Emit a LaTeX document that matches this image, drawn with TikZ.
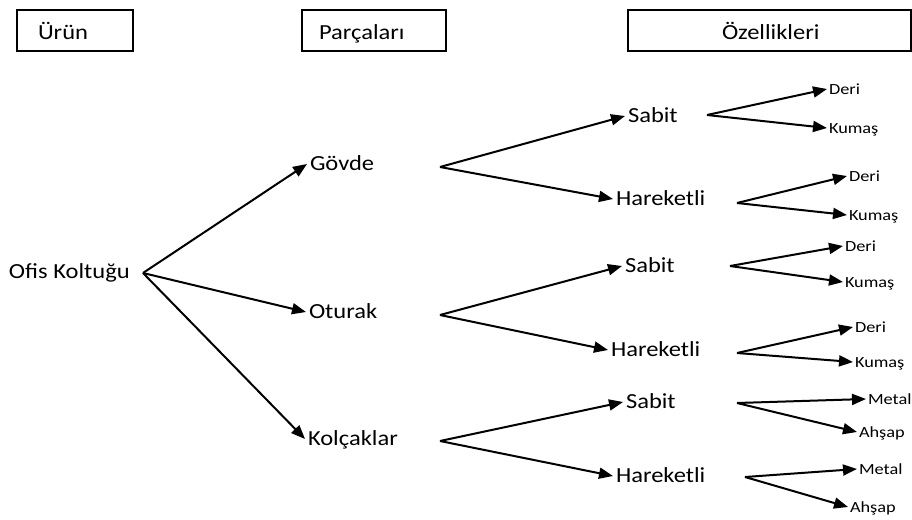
\documentclass[tikz,border=0pt]{standalone}
\usepackage{fontspec}
\setmainfont{Carlito}
\newfontfamily\bodyfont[FakeStretch=1.14]{Carlito}
\newfontfamily\leaffont[FakeStretch=1.18]{Carlito}
\usetikzlibrary{arrows.meta}
\begin{document}
\begin{tikzpicture}[x=1pt,y=-1pt,
  hdrbox/.style={draw,line width=1.6pt,inner sep=0pt},
  txt/.style={anchor=west,inner sep=0pt,outer xsep=3pt,text depth=0pt},
  lvl/.style={txt,text height=13.8pt,font=\bodyfont\fontsize{21.5}{24}\selectfont},
  leaf/.style={txt,outer xsep=2pt,text height=10pt,font=\leaffont\fontsize{15.5}{18}\selectfont},
  arr/.style={line width=2pt,-{Triangle[length=14pt,width=11pt]}}]
\useasboundingbox (0,0) rectangle (912,519);
% column headers
\node[hdrbox,minimum width=116pt,minimum height=41pt] (b1) at (75,30.5) {};
\node[hdrbox,minimum width=144pt,minimum height=41pt] (b2) at (374,30.5) {};
\node[hdrbox,minimum width=283pt,minimum height=41pt] (b3) at (769.5,30.5) {};
\node[lvl,outer xsep=0pt] (h1) at (38,33) {Ürün};
\node[lvl,outer xsep=0pt] (h2) at (319,33) {Parçaları};
\node[lvl,outer xsep=0pt] (h3) at (722,33) {Özellikleri};
% root
\node[lvl,outer xsep=0pt] (root) at (9,272) {Ofis Koltuğu};
\coordinate (r0) at (143,273);
% parts
\node[lvl] (govde) at (307,164) {Gövde};
\node[lvl] (oturak) at (306,312) {Oturak};
\node[lvl] (kolcak) at (305,439) {Kolçaklar};
\draw[arr] (r0) -- (govde.west);
\draw[arr] (r0) -- (oturak.west);
\draw[arr] (r0) -- (kolcak.west);
% Gövde branch
\coordinate (g0) at (440,167);
\node[lvl] (gs) at (625,116) {Sabit};
\node[lvl] (gh) at (613,199) {Hareketli};
\draw[arr] (g0) -- (gs.west);
\draw[arr] (g0) -- (gh.west);
\coordinate (gs0) at (707,115);
\node[leaf] (gsd) at (827,89) {Deri};
\node[leaf] (gsk) at (827,128) {Kumaş};
\draw[arr] (gs0) -- (gsd.west);
\draw[arr] (gs0) -- (gsk.west);
\coordinate (gh0) at (737,203);
\node[leaf] (ghd) at (847,176) {Deri};
\node[leaf] (ghk) at (847,215) {Kumaş};
\draw[arr] (gh0) -- (ghd.west);
\draw[arr] (gh0) -- (ghk.west);
% Oturak branch
\coordinate (o0) at (440,315);
\node[lvl] (os) at (622,266) {Sabit};
\node[lvl] (oh) at (608,350) {Hareketli};
\draw[arr] (o0) -- (os.west);
\draw[arr] (o0) -- (oh.west);
\coordinate (os0) at (730,266);
\node[leaf] (osd) at (843,246) {Deri};
\node[leaf] (osk) at (843,282) {Kumaş};
\draw[arr] (os0) -- (osd.west);
\draw[arr] (os0) -- (osk.west);
\coordinate (oh0) at (737,353);
\node[leaf] (ohd) at (853,327) {Deri};
\node[leaf] (ohk) at (853,362) {Kumaş};
\draw[arr] (oh0) -- (ohd.west);
\draw[arr] (oh0) -- (ohk.west);
% Kolçaklar branch
\coordinate (k0) at (440,441);
\node[lvl] (ks) at (623,402) {Sabit};
\node[lvl] (kh) at (613,476) {Hareketli};
\draw[arr] (k0) -- (ks.west);
\draw[arr] (k0) -- (kh.west);
\coordinate (ks0) at (737,403);
\node[leaf] (ksm) at (866,399) {Metal};
\node[leaf] (ksa) at (857,432) {Ahşap};
\draw[arr] (ks0) -- (ksm.west);
\draw[arr] (ks0) -- (ksa.west);
\coordinate (kh0) at (745,477);
\node[leaf] (khm) at (857,469) {Metal};
\node[leaf] (kha) at (848,507) {Ahşap};
\draw[arr] (kh0) -- (khm.west);
\draw[arr] (kh0) -- (kha.west);
\end{tikzpicture}
\end{document}
